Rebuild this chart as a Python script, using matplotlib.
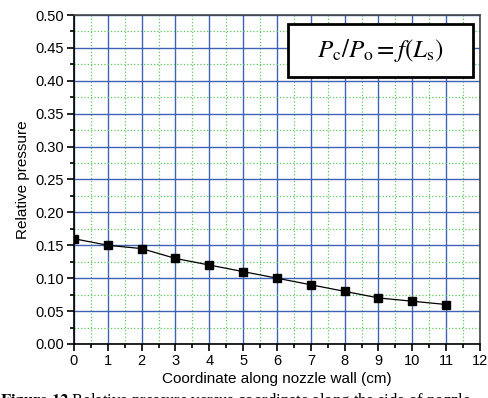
import matplotlib
matplotlib.use("Agg")
import matplotlib.pyplot as plt
from matplotlib.ticker import MultipleLocator
from matplotlib.patches import Rectangle

# coordinate along nozzle wall (cm) and relative pressure Pc/Po
coord = [0, 1, 2, 3, 4, 5, 6, 7, 8, 9, 10, 11]
rel_pressure = [0.16, 0.15, 0.145, 0.13, 0.12, 0.11, 0.10, 0.09, 0.08, 0.07, 0.065, 0.06]

plt.rcParams['font.family'] = ['Liberation Sans', 'DejaVu Sans']
plt.rcParams['mathtext.fontset'] = 'stix'

fig = plt.figure(figsize=(4.89, 3.98), dpi=100)
ax = fig.add_axes([0.1513, 0.1357, 0.8303, 0.8266])

ax.plot(coord, rel_pressure, color='black', linewidth=0.9, marker='s',
        markersize=6, markerfacecolor='black', zorder=5)

ax.set_xlim(0, 12)
ax.set_ylim(0, 0.5)
ax.xaxis.set_major_locator(MultipleLocator(1))
ax.xaxis.set_minor_locator(MultipleLocator(0.5))
ax.yaxis.set_major_locator(MultipleLocator(0.05))
ax.yaxis.set_minor_locator(MultipleLocator(0.025))
ax.yaxis.set_major_formatter(plt.FormatStrFormatter('%.2f'))

ax.grid(True, which='major', color='#3f62b4', linewidth=1.0, linestyle='-')
ax.grid(True, which='minor', color='#5cc85c', linewidth=0.9, linestyle=':')
ax.set_axisbelow(True)

ax.tick_params(which='both', direction='out', top=False, right=False,
               labelsize=10.5, width=1.2)
ax.tick_params(which='major', length=5, pad=2)
ax.tick_params(which='minor', length=3)
for s in ax.spines.values():
    s.set_linewidth(1.2)
ax.spines['top'].set_color('#444444')
ax.spines['right'].set_color('#444444')

ax.set_xlabel("Coordinate along nozzle wall (cm)", fontsize=11, labelpad=3)
ax.set_ylabel("Relative pressure", fontsize=11, labelpad=4)

# formula box
ax.add_patch(Rectangle((0.527, 0.812), 0.456, 0.161, transform=ax.transAxes,
                       facecolor='white', edgecolor='black', linewidth=2, zorder=6))
ax.text(0.755, 0.892, r"$P_{\rm c}/P_{\rm o} = f(L_{\rm s})$", transform=ax.transAxes,
        fontsize=18, ha='center', va='center', zorder=7)

# caption cut off at the bottom edge
fig.text(0.0, 0.018, r"$\mathbf{Figure\ 12}$ Relative pressure versus coordinate along the side of nozzle",
         fontsize=12, family='Liberation Serif', ha='left', va='top')

fig.savefig("out.png", dpi=100)
